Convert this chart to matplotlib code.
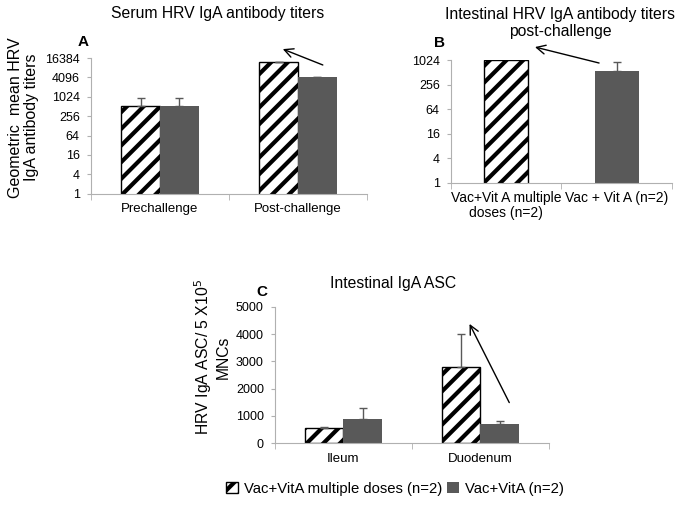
import matplotlib
matplotlib.use("Agg")
import matplotlib.pyplot as plt

plt.rcParams['font.family'] = ['Liberation Sans', 'DejaVu Sans']
plt.rcParams['hatch.linewidth'] = 3.0

# panel A: serum titers
a_groups = ["Prechallenge", "Post-challenge"]
a_multi = [512, 12000]
a_multi_err = [400, 0]
a_vita = [540, 4300]
a_vita_err = [380, 0]
a_ticks = [1, 4, 16, 64, 256, 1024, 4096, 16384]

# panel B: intestinal titers post-challenge
b_groups = ["Vac+Vit A multiple\ndoses (n=2)", "Vac + Vit A (n=2)"]
b_values = [1024, 550]
b_err = [0, 380]
b_ticks = [1, 4, 16, 64, 256, 1024]

# panel C: intestinal IgA ASC
c_groups = ["Ileum", "Duodenum"]
c_multi = [550, 2780]
c_multi_err = [50, 1220]
c_vita = [880, 690]
c_vita_err = [420, 110]
c_ticks = [0, 1000, 2000, 3000, 4000, 5000]

# arrows (tail, head) in data units
a_arrow = ((1.18, 9950), (0.89, 31000))
b_arrow = ((0.84, 864), (0.26, 2130))
c_arrow = ((1.21, 1490), (0.92, 4370))

gray = "#595959"
axis_gray = "#b0b0b0"


def style_axes(ax, labels, fs=9.5):
    for s in ["top", "right"]:
        ax.spines[s].set_visible(False)
    for s in ["left", "bottom"]:
        ax.spines[s].set_color(axis_gray)
    ax.set_xlim(-0.5, len(labels) - 0.5)
    ax.set_xticks(range(len(labels)))
    ax.set_xticklabels(labels, fontsize=fs, multialignment="center")
    ax.set_xticks([i - 0.5 for i in range(len(labels) + 1)], minor=True)
    ax.tick_params(axis="x", which="major", length=0, pad=7)
    ax.tick_params(axis="x", which="minor", length=4, color=axis_gray)
    ax.tick_params(axis="y", length=3, color=axis_gray, labelsize=9, pad=5)


def draw_arrow(ax, arrow):
    ax.annotate("", xy=arrow[1], xytext=arrow[0], annotation_clip=False,
                arrowprops=dict(arrowstyle="->", color="black", lw=1,
                                mutation_scale=16, shrinkA=0, shrinkB=0))


fig = plt.figure(figsize=(6.83, 5.12), dpi=100)

# A
axA = fig.add_axes([0.1332, 0.6217, 0.4041, 0.2650])
x = range(len(a_groups))
w = 0.28
axA.bar([i - w / 2 for i in x], a_multi, w, color="white", edgecolor="black",
        hatch="//", linewidth=1,
        yerr=[[0] * 2, a_multi_err], ecolor=gray, capsize=3, error_kw=dict(lw=1))
axA.bar([i + w / 2 for i in x], a_vita, w, color=gray,
        yerr=[[0] * 2, a_vita_err], ecolor=gray, capsize=3, error_kw=dict(lw=1))
axA.set_yscale("log", base=2)
axA.set_ylim(1, 16384)
axA.set_yticks(a_ticks)
axA.set_yticklabels([str(t) for t in a_ticks])
axA.minorticks_off()
style_axes(axA, a_groups)
axA.set_xticks([i - 0.5 for i in range(3)], minor=True)
draw_arrow(axA, a_arrow)

# B
axB = fig.add_axes([0.6603, 0.6432, 0.3236, 0.2396])
axB.bar([0], [b_values[0]], 0.4, color="white", edgecolor="black", hatch="//",
        linewidth=1)
axB.bar([1], [b_values[1]], 0.4, color=gray,
        yerr=[[0], [b_err[1]]], ecolor=gray, capsize=3, error_kw=dict(lw=1))
axB.set_yscale("log", base=2)
axB.set_ylim(1, 1024)
axB.set_yticks(b_ticks)
axB.set_yticklabels([str(t) for t in b_ticks])
axB.minorticks_off()
style_axes(axB, b_groups, fs=10)
axB.set_xticks([i - 0.5 for i in range(3)], minor=True)
axB.tick_params(axis="x", which="major", pad=6)
for lab in axB.get_xticklabels():
    lab.set_linespacing(1.05)
draw_arrow(axB, b_arrow)

# C
axC = fig.add_axes([0.4026, 0.1342, 0.4012, 0.2668])
x = range(len(c_groups))
h1 = axC.bar([i - w / 2 for i in x], c_multi, w, color="white", edgecolor="black",
             hatch="//", linewidth=1,
             yerr=[[0] * 2, c_multi_err], ecolor=gray, capsize=3, error_kw=dict(lw=1))
h2 = axC.bar([i + w / 2 for i in x], c_vita, w, color=gray,
             yerr=[[0] * 2, c_vita_err], ecolor=gray, capsize=3, error_kw=dict(lw=1))
axC.set_ylim(0, 5000)
axC.set_yticks(c_ticks)
style_axes(axC, c_groups)
draw_arrow(axC, c_arrow)

# titles, panel letters, y labels
fig.text(0.319, 0.973, "Serum HRV IgA antibody titers", ha="center", va="center", fontsize=11.3)
fig.text(0.82, 0.955, "Intestinal HRV IgA antibody titers\npost-challenge", ha="center",
         va="center", fontsize=11.3, linespacing=1.15)
fig.text(0.575, 0.447, "Intestinal IgA ASC", ha="center", va="center", fontsize=11.3)
fig.text(0.1215, 0.918, "A", ha="center", va="center", fontsize=11, fontweight="bold")
fig.text(0.644, 0.916, "B", ha="center", va="center", fontsize=11, fontweight="bold")
fig.text(0.3836, 0.4297, "C", ha="center", va="center", fontsize=11, fontweight="bold")
fig.text(0.034, 0.771, "Geometric  mean HRV\nIgA antibody titers", rotation=90,
         ha="center", va="center", fontsize=11.5, linespacing=1.1)
fig.text(0.31, 0.302, "HRV IgA ASC/ 5 X10$^5$\nMNCs", rotation=90,
         ha="center", va="center", fontsize=11.3, linespacing=1.1)

fig.legend([h1, h2], ["Vac+VitA multiple doses (n=2)", "Vac+VitA (n=2)"],
           loc="center", bbox_to_anchor=(0.578, 0.045), ncol=2, frameon=False,
           fontsize=10.7, handlelength=0.8, handleheight=0.8, handletextpad=0.4,
           columnspacing=0.3)

fig.savefig("out.png", dpi=100)
